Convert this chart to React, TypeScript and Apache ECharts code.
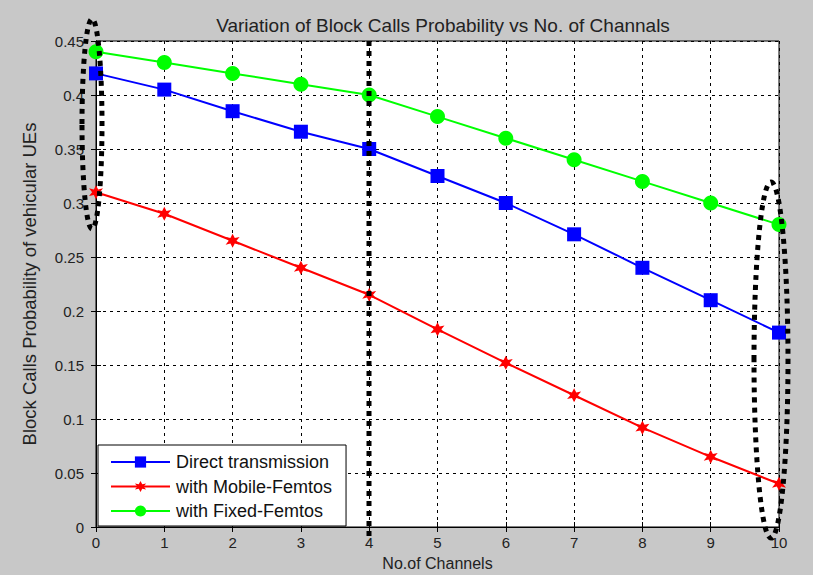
import React, { useEffect, useRef } from "react";
import * as echarts from "echarts";

const channels = ["0", "1", "2", "3", "4", "5", "6", "7", "8", "9", "10"];
const directTx = [0.42, 0.405, 0.385, 0.366, 0.35, 0.325, 0.30, 0.271, 0.24, 0.21, 0.18];
const mobileFemtos = [0.31, 0.29, 0.265, 0.24, 0.215, 0.183, 0.152, 0.122, 0.092, 0.065, 0.04];
const fixedFemtos = [0.44, 0.43, 0.42, 0.41, 0.40, 0.38, 0.36, 0.34, 0.32, 0.30, 0.28];
const yTicks = ["0", "0.05", "0.1", "0.15", "0.2", "0.25", "0.3", "0.35", "0.4", "0.45"];

const STAR = "path://M0,-10 L2.8,-4 L9,-5.5 L5,0 L9,5.5 L2.8,4 L0,10 L-2.8,4 L-9,5.5 L-5,0 L-9,-5.5 L-2.8,-4 Z";
const FONT = "Liberation Sans, Arial, sans-serif";

export default function App() {
  const ref = useRef<HTMLDivElement>(null);
  useEffect(() => {
    if (!ref.current) return;
    const chart = echarts.init(ref.current, null, { renderer: "svg" });
    const dotted = { stroke: "#000", lineWidth: 5, lineDash: [5, 5], fill: "none" };
    const xNums = channels.map(Number);
    const pair = (arr: number[]) => arr.map((v, i) => [xNums[i], v]);
    chart.setOption({
      animation: false,
      backgroundColor: "#c8c8c8",
      textStyle: { fontFamily: FONT },
      title: {
        text: "Variation of Block Calls Probability vs No. of Channals",
        left: 438,
        textAlign: "center",
        top: 11,
        textStyle: { fontSize: 19, fontWeight: "normal", color: "#222", fontFamily: FONT },
      },
      grid: {
        left: 96, right: 34, top: 41, bottom: 48,
        outerBoundsMode: "none",
        containLabel: false,
        show: true, backgroundColor: "#fff", borderColor: "#000", borderWidth: 1,
      },
      legend: {
        left: 98, top: 445, orient: "vertical",
        backgroundColor: "#fff", borderColor: "#000", borderWidth: 1,
        padding: [8, 14, 6, 12], itemGap: 6.5, itemWidth: 59, itemHeight: 14,
        textStyle: { fontSize: 18, lineHeight: 18, color: "#111", fontFamily: FONT, padding: [0, 0, 0, 1] },
        data: ["Direct transmission", "with Mobile-Femtos", "with Fixed-Femtos"],
      },
      xAxis: [
        {
          type: "value", min: 0, max: 10, interval: 1,
          name: "No.of Channels", nameLocation: "middle", nameGap: 28,
          nameTextStyle: { fontSize: 16, color: "#222" },
          axisLine: { lineStyle: { color: "#000" } },
          axisTick: { inside: true, length: 5, lineStyle: { color: "#000" } },
          axisLabel: { fontSize: 15, color: "#222", margin: 8 },
          splitLine: { show: true, lineStyle: { color: "#000", type: [3, 4], width: 1 } },
        },
        {
          type: "value", min: 0, max: 10, interval: 1, position: "top",
          axisLine: { lineStyle: { color: "#000" } },
          axisTick: { inside: true, length: 5, lineStyle: { color: "#000" } },
          axisLabel: { show: false }, splitLine: { show: false },
        },
      ],
      yAxis: [
        {
          type: "value", min: 0, max: 0.45, interval: 0.05,
          name: "Block Calls Probability of vehicular UEs", nameLocation: "middle", nameGap: 57,
          nameTextStyle: { fontSize: 18.5, color: "#222" },
          axisLine: { show: true, lineStyle: { color: "#000" } },
          axisTick: { show: true, inside: true, length: 5, lineStyle: { color: "#000" } },
          axisLabel: {
            fontSize: 15, color: "#222", margin: 12,
            formatter: (v: number) => yTicks[Math.round(v / 0.05)] ?? String(v),
          },
          splitLine: { show: true, lineStyle: { color: "#000", type: [3, 4], width: 1 } },
        },
        {
          type: "value", min: 0, max: 0.45, interval: 0.05, position: "right",
          axisLine: { show: true, lineStyle: { color: "#000" } },
          axisTick: { show: true, inside: true, length: 5, lineStyle: { color: "#000" } },
          axisLabel: { show: false }, splitLine: { show: false },
        },
      ],
      series: [
        {
          name: "Direct transmission", type: "line", data: pair(directTx),
          symbol: "rect", symbolSize: 14, color: "#0000ff",
          lineStyle: { color: "#0000ff", width: 2 }, itemStyle: { color: "#0000ff" },
        },
        {
          name: "with Mobile-Femtos", type: "line", data: pair(mobileFemtos),
          symbol: STAR, symbolSize: 14, color: "#ff0000",
          lineStyle: { color: "#ff0000", width: 2 }, itemStyle: { color: "#ff0000" },
        },
        {
          name: "with Fixed-Femtos", type: "line", data: pair(fixedFemtos),
          symbol: "circle", symbolSize: 15, color: "#00ff00",
          lineStyle: { color: "#00ff00", width: 2 }, itemStyle: { color: "#00ff00" },
        },
      ],
      graphic: [
        { type: "ellipse", shape: { cx: 92, cy: 124, rx: 10, ry: 105 }, style: dotted, z: 100 },
        { type: "line", shape: { x1: 369, y1: 41, x2: 369, y2: 540 }, style: dotted, z: 100 },
        { type: "ellipse", shape: { cx: 771, cy: 360, rx: 17, ry: 178 }, style: dotted, z: 100 },
      ],
    });
    return () => chart.dispose();
  }, []);
  return (
    <div
      ref={ref}
      style={{ position: "fixed", left: 0, top: 0, width: 813, height: 575 }}
    />
  );
}
